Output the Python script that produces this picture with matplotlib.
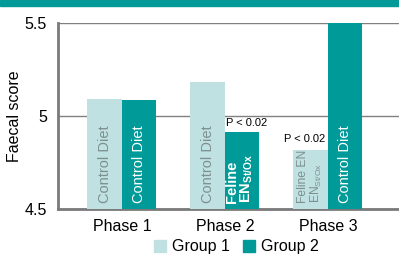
import matplotlib.pyplot as plt
from matplotlib.patches import Rectangle, Patch

plt.rcParams['font.family'] = ['Liberation Sans', 'DejaVu Sans']

phases = ["Phase 1", "Phase 2", "Phase 3"]
group1 = [5.09, 5.185, 4.817]
group2 = [5.085, 4.913, 5.5]
group1_labels = ["Control Diet", "Control Diet", "Feline EN\nEN$_{\\mathregular{St/Ox}}$"]
group2_labels = ["Control Diet", "Feline\nEN$_{\\mathregular{St/Ox}}$", "Control Diet"]
pvals = [None, "P < 0.02", "P < 0.02"]
legend_labels = ["Group 1", "Group 2"]

teal = "#009b98"
light = "#bfe1e1"
grey_txt = "#7e8f8f"

fig = plt.figure(figsize=(3.99, 2.56), dpi=100)
fig.patches.append(Rectangle((0, 0.977), 1, 0.023, transform=fig.transFigure,
                             color=teal, zorder=0))
ax = fig.add_axes([0.1454, 0.1836, 0.8546, 0.7264])

w = 0.335
x = range(len(phases))
ax.bar([i - w / 2 for i in x], [v - 4.5 for v in group1], w, bottom=4.5,
       color=light, zorder=3)
ax.bar([i + w / 2 for i in x], [v - 4.5 for v in group2], w, bottom=4.5,
       color=teal, zorder=3)

# size of the text inside each bar (two-line ones are smaller)
size1 = [10.5, 10.5, 8.7]
size2 = [10.5, 10.5, 10.5]
for i in x:
    ax.text(i - w / 2, 4.53, group1_labels[i], rotation=90, ha='center',
            va='bottom', color=grey_txt, fontsize=size1[i], zorder=4,
            multialignment='left', linespacing=0.95)
    ax.text(i + w / 2 - 0.02 * (i == 1), 4.53, group2_labels[i], rotation=90,
            ha='center', va='bottom', color='white', fontsize=size2[i],
            zorder=4, fontweight='bold' if i == 1 else 'normal',
            multialignment='left', linespacing=0.95)

# p-value notes
ax.text(1 + 0.01, group2[1] + 0.02, pvals[1], ha='left', va='bottom',
        fontsize=8, zorder=4)
ax.text(2 - w / 2 - 0.06, group1[2] + 0.035, pvals[2], ha='center',
        va='bottom', fontsize=8, zorder=4)

ax.set_xlim(-0.62, 2.69)
ax.set_ylim(4.5, 5.5)
ax.set_yticks([4.5, 5, 5.5])
ax.set_yticklabels(["4.5", "5", "5.5"])
ax.set_xticks(list(x))
ax.set_xticklabels(phases)
ax.tick_params(length=0, labelsize=11.5)
ax.tick_params(axis='x', pad=7)
ax.tick_params(axis='y', pad=8)
ax.grid(axis='y', color='#808080', linewidth=1, zorder=1)
for s in ['top', 'right']:
    ax.spines[s].set_visible(False)
for s in ['left', 'bottom']:
    ax.spines[s].set_color('#7a7a7a')
    ax.spines[s].set_linewidth(2)
ax.set_ylabel("Faecal score", fontsize=11.5)
ax.yaxis.set_label_coords(-0.105, 0.5)

handles = [Patch(color=light), Patch(color=teal)]
fig.legend(handles, legend_labels, ncol=2, loc='lower center',
           bbox_to_anchor=(0.593, -0.05), frameon=False, fontsize=11.5,
           handlelength=0.75, handleheight=0.75, handletextpad=0.4,
           columnspacing=0.8)

fig.savefig("out.png", dpi=100)
